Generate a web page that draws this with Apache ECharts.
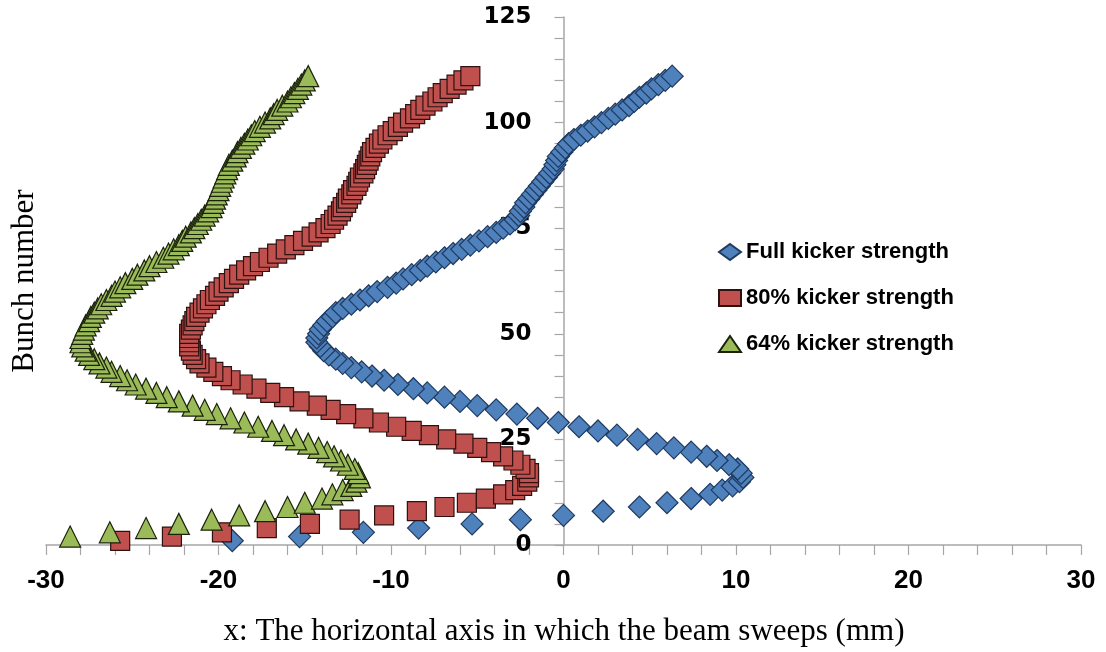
<!DOCTYPE html>
<html>
<head>
<meta charset="utf-8">
<script src="https://cdn.jsdelivr.net/npm/echarts@6/dist/echarts.min.js"></script>
<style>
  html, body { margin: 0; padding: 0; background: #ffffff; }
  #chart { width: 1106px; height: 652px; }
</style>
</head>
<body>
<div id="chart"></div>
<script>
// Horizontal beam position x (mm) for each bunch, one array per kicker setting.
// Full strength and 80 % start at bunch 1, 64 % starts at bunch 2.
const fullFirstBunch = 1;
const fullX = [
  -19.2, -15.3, -11.6, -8.4, -5.3, -2.5, 0.0, 2.3, 4.4, 6.0,
  7.4, 8.5, 9.2, 9.8, 10.2, 10.4, 10.3, 10.1, 9.6, 8.9,
  8.3, 7.4, 6.4, 5.4, 4.3, 3.1, 2.0, 0.9, -0.3, -1.5,
  -2.7, -3.9, -5.0, -6.0, -6.9, -7.9, -8.7, -9.6, -10.4, -11.1,
  -11.7, -12.3, -12.8, -13.2, -13.6, -13.9, -14.1, -14.3, -14.3, -14.2,
  -14.1, -13.9, -13.7, -13.4, -13.2, -12.8, -12.3, -11.8, -11.3, -10.8,
  -10.2, -9.7, -9.3, -8.8, -8.3, -7.9, -7.4, -6.9, -6.4, -5.9,
  -5.4, -4.9, -4.4, -3.9, -3.5, -3.1, -2.8, -2.6, -2.5, -2.3,
  -2.2, -2.0, -1.8, -1.6, -1.4, -1.2, -1.0, -0.8, -0.6, -0.5,
  -0.4, -0.3, -0.1, 0.1, 0.3, 0.6, 1.0, 1.4, 1.8, 2.2,
  2.6, 3.0, 3.4, 3.8, 4.1, 4.4, 4.8, 5.1, 5.5, 5.9,
  6.3
];

const p80FirstBunch = 1;
const p80X = [
  -25.7, -22.7, -19.8, -17.2, -14.7, -12.4, -10.4, -8.5, -6.9, -5.6,
  -4.5, -3.5, -2.8, -2.4, -2.1, -2.0, -2.0, -2.2, -2.5, -2.9,
  -3.5, -4.2, -5.0, -5.8, -6.8, -7.8, -8.8, -9.7, -10.7, -11.6,
  -12.6, -13.5, -14.3, -15.3, -16.2, -17.0, -17.8, -18.6, -19.3, -19.8,
  -20.3, -20.7, -21.1, -21.3, -21.5, -21.6, -21.7, -21.7, -21.7, -21.7,
  -21.6, -21.5, -21.4, -21.3, -21.1, -20.9, -20.7, -20.5, -20.2, -20.0,
  -19.7, -19.4, -19.1, -18.8, -18.4, -18.0, -17.6, -17.1, -16.6, -16.1,
  -15.6, -15.1, -14.6, -14.2, -13.8, -13.5, -13.3, -13.1, -12.9, -12.8,
  -12.6, -12.5, -12.3, -12.2, -12.0, -11.9, -11.8, -11.6, -11.5, -11.4,
  -11.3, -11.2, -11.1, -10.9, -10.7, -10.5, -10.2, -9.9, -9.6, -9.3,
  -8.9, -8.6, -8.3, -8.0, -7.6, -7.3, -7.0, -6.6, -6.2, -5.8,
  -5.4
];

const p64FirstBunch = 2;
const p64X = [
  -28.6, -26.3, -24.2, -22.3, -20.4, -18.8, -17.3, -16.0, -15.0,
  -14.0, -13.4, -12.8, -12.3, -12.0, -11.8, -11.9, -12.1, -12.5, -12.9,
  -13.3, -13.7, -14.2, -14.8, -15.5, -16.2, -16.9, -17.7, -18.5, -19.3,
  -20.1, -20.8, -21.5, -22.3, -23.0, -23.6, -24.2, -24.8, -25.3, -25.7,
  -26.2, -26.5, -26.9, -27.2, -27.5, -27.7, -27.9, -28.0, -28.0, -27.9,
  -27.8, -27.7, -27.5, -27.4, -27.2, -27.0, -26.8, -26.5, -26.2, -26.0,
  -25.7, -25.4, -25.0, -24.7, -24.3, -24.0, -23.6, -23.2, -22.9, -22.6,
  -22.3, -22.1, -21.9, -21.6, -21.4, -21.2, -21.0, -20.8, -20.6, -20.4,
  -20.3, -20.2, -20.1, -20.0, -19.9, -19.8, -19.7, -19.6, -19.5, -19.4,
  -19.2, -19.0, -18.9, -18.7, -18.5, -18.3, -18.1, -17.9, -17.6, -17.3,
  -17.0, -16.8, -16.6, -16.3, -16.0, -15.8, -15.6, -15.4, -15.2, -15.0,
  -14.8
];

const seriesNames = ['Full kicker strength', '80% kicker strength', '64% kicker strength'];
const xTitle = 'x: The horizontal axis in which the beam sweeps (mm)';
const yTitle = 'Bunch number';

// pair each x position with its bunch number
function toPoints(xs, firstBunch) {
  return xs.map((x, i) => [x, firstBunch + i]);
}

const chart = echarts.init(document.getElementById('chart'), null, { renderer: 'canvas' });

const axisGrey = '#a6a6a6';
const gridLeft = 46;
const gridRight = 25;
const plotWidth = 1106 - gridLeft - gridRight;
// the vertical axis sits at x = 0, i.e. half way across the -30..30 range
const yAxisShift = -plotWidth / 2;

chart.setOption({
  backgroundColor: '#ffffff',
  animation: false,
  grid: { left: gridLeft, right: gridRight, top: 17, bottom: 107, containLabel: false, outerBoundsMode: 'none' },
  xAxis: {
    type: 'value',
    min: -30, max: 30, interval: 10,
    axisLine: { onZero: false, lineStyle: { color: axisGrey, width: 1.5 } },
    axisTick: { show: true, length: 10, lineStyle: { color: axisGrey, width: 1.2 } },
    minorTick: { show: true, splitNumber: 5, length: 10, lineStyle: { color: axisGrey, width: 1.2 } },
    splitLine: { show: false },
    axisLabel: {
      margin: 23,
      color: '#000000',
      fontFamily: "'Liberation Sans Narrow', 'Liberation Sans', sans-serif",
      fontWeight: 'bold',
      fontSize: 26
    }
  },
  yAxis: {
    type: 'value',
    position: 'left',
    offset: yAxisShift,
    min: 0, max: 125, interval: 25,
    axisLine: { show: true, onZero: false, lineStyle: { color: axisGrey, width: 1.5 } },
    axisTick: { show: true, length: 9, lineStyle: { color: axisGrey, width: 1.2 } },
    minorTick: { show: true, splitNumber: 5, length: 9, lineStyle: { color: axisGrey, width: 1.2 } },
    splitLine: { show: false },
    axisLabel: {
      margin: 32,
      color: '#000000',
      fontFamily: "'DejaVu Sans', sans-serif",
      fontWeight: 'bold',
      fontSize: 23
    }
  },
  legend: {
    data: seriesNames,
    orient: 'vertical',
    left: 713,
    top: 236,
    itemWidth: 22,
    itemHeight: 16,
    itemGap: 24,
    textStyle: {
      color: '#000000',
      fontFamily: "'Liberation Sans', Arial, sans-serif",
      fontWeight: 'bold',
      fontSize: 22
    }
  },
  graphic: [
    {
      type: 'text',
      x: 564, y: 632,
      style: {
        text: xTitle,
        fill: '#000000',
        font: "31px 'Liberation Serif', 'Times New Roman', serif",
        align: 'center',
        verticalAlign: 'middle'
      }
    },
    {
      type: 'text',
      x: 25, y: 281,
      rotation: Math.PI / 2,
      style: {
        text: yTitle,
        fill: '#000000',
        font: "31px 'Liberation Serif', 'Times New Roman', serif",
        align: 'center',
        verticalAlign: 'middle'
      }
    }
  ],
  series: [
    {
      name: seriesNames[0],
      type: 'scatter',
      symbol: 'diamond',
      symbolSize: 22,
      itemStyle: { color: '#4f81bd', borderColor: '#1f3a5f', borderWidth: 1.2, opacity: 1 },
      data: toPoints(fullX, fullFirstBunch)
    },
    {
      name: seriesNames[1],
      type: 'scatter',
      symbol: 'rect',
      symbolSize: 19,
      itemStyle: { color: '#c0504d', borderColor: '#2e1110', borderWidth: 1.2, opacity: 1 },
      data: toPoints(p80X, p80FirstBunch)
    },
    {
      name: seriesNames[2],
      type: 'scatter',
      symbol: 'triangle',
      symbolSize: 21,
      itemStyle: { color: '#9bbb59', borderColor: '#1a220c', borderWidth: 1.2, opacity: 1 },
      data: toPoints(p64X, p64FirstBunch)
    }
  ]
});
</script>
</body>
</html>
